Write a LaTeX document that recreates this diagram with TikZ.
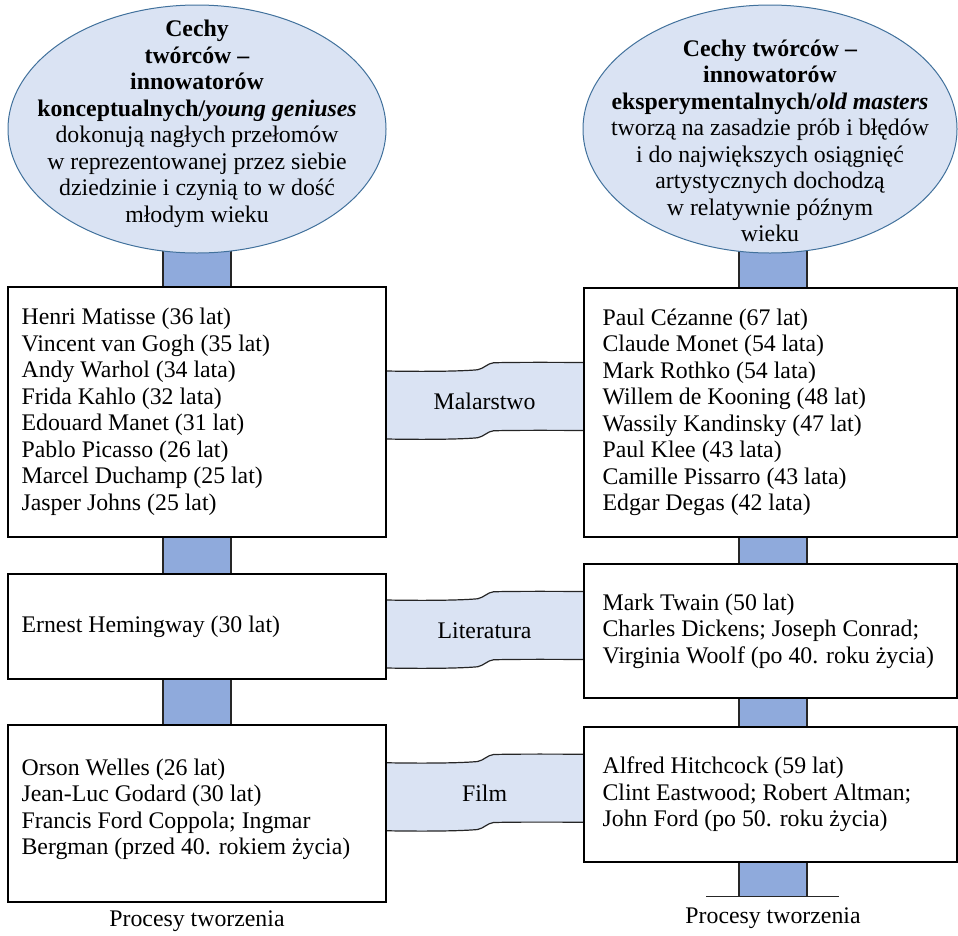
\documentclass[tikz,border=0pt]{standalone}
\usepackage{fontspec}
\setmainfont{Liberation Serif}
\usetikzlibrary{positioning,shapes.geometric,backgrounds}

\definecolor{ovalfill}{HTML}{DAE3F3}
\definecolor{ovalline}{HTML}{41719C}
\definecolor{stemfill}{HTML}{8FAADC}

\tikzset{
  base/.style={font=\fontsize{23.8}{26.5}\selectfont},
  oval/.style={ellipse, draw=ovalline, fill=ovalfill, line width=1pt, minimum width=378pt, minimum height=248pt},
  box/.style={rectangle, draw=black, line width=1.2pt, inner sep=0pt},
  list/.style={align=left, inner sep=0pt, anchor=west},
  stem/.style={draw=black!85, fill=stemfill, line width=1.2pt},
  band/.style={fill=ovalfill},
  bandline/.style={draw=black!85, line width=1.2pt},
}

\begin{document}
\begin{tikzpicture}[x=1pt, y=-1pt, base]
    \useasboundingbox (0,0) rectangle (958,935);

    % ovals
    \node[oval] (le) at (197,129) {};
    \node[oval, minimum width=374pt] (re) at (770,129) {};
    \node[align=center] (letext) at ([yshift=5pt]le.center) {\textbf{Cechy}\\ \textbf{twórców –}\\ \textbf{innowatorów}\\ \textbf{konceptualnych/\textit{young geniuses}}\\ dokonują nagłych przełomów\\ w reprezentowanej przez siebie\\ dziedzinie i czynią to w dość\\ młodym wieku};
    \node[align=center] (retext) at ([yshift=-12pt]re.center) {\textbf{Cechy twórców –}\\ \textbf{innowatorów}\\ \textbf{eksperymentalnych/\textit{old masters}}\\ tworzą na zasadzie prób i błędów\\ i do największych osiągnięć\\ artystycznych dochodzą\\ w relatywnie późnym\\ wieku};

    % boxes
    \node[box, minimum width=378pt, minimum height=250pt] (lb1) at (197,412) {};
    \node[box, minimum width=378pt, minimum height=105pt] (lb2) at (197,626.5) {};
    \node[box, minimum width=378pt, minimum height=177pt] (lb3) at (197,813.5) {};
    \node[box, minimum width=373pt, minimum height=249pt] (rb1) at (770.5,412.5) {};
    \node[box, minimum width=373pt, minimum height=134pt] (rb2) at (770.5,631) {};
    \node[box, minimum width=373pt, minimum height=135pt] (rb3) at (770.5,794.5) {};

    \node[list] (lt1) at ([xshift=14pt]lb1.west) {Henri Matisse (36 lat)\\ Vincent van Gogh (35 lat)\\ Andy Warhol (34 lata)\\ Frida Kahlo (32 lata)\\ Edouard Manet (31 lat)\\ Pablo Picasso (26 lat)\\ Marcel Duchamp (25 lat)\\ Jasper Johns (25 lat)};
    \node[list] (lt2) at ([xshift=14pt]lb2.west) {Ernest Hemingway (30 lat)};
    \node[list] (lt3) at ([shift={(14,-4)}]lb3.west) {Orson Welles (26 lat)\\ Jean-Luc Godard (30 lat)\\ Francis Ford Coppola; Ingmar\\ Bergman (przed 40. rokiem życia)};
    \node[list] (rt1) at ([xshift=19pt]rb1.west) {Paul Cézanne (67 lat)\\ Claude Monet (54 lata)\\ Mark Rothko (54 lata)\\ Willem de Kooning (48 lat)\\ Wassily Kandinsky (47 lat)\\ Paul Klee (43 lata)\\ Camille Pissarro (43 lata)\\ Edgar Degas (42 lata)};
    \node[list] (rt2) at ([xshift=19pt]rb2.west) {Mark Twain (50 lat)\\ Charles Dickens; Joseph Conrad;\\ Virginia Woolf (po 40. roku życia)};
    \node[list] (rt3) at ([xshift=19pt]rb3.west) {Alfred Hitchcock (59 lat)\\ Clint Eastwood; Robert Altman;\\ John Ford (po 50. roku życia)};

    \begin{scope}[on background layer]
        % stems
        \draw[stem] ([shift={(-34,-10)}]le.south) rectangle ([xshift=34pt]lb1.north);
        \draw[stem] ([xshift=-34pt]lb1.south) rectangle ([xshift=34pt]lb2.north);
        \draw[stem] ([xshift=-34pt]lb2.south) rectangle ([xshift=34pt]lb3.north);
        \draw[stem] ([shift={(-31,-10)}]re.south) rectangle ([xshift=36.5pt]rb1.north);
        \draw[stem] ([xshift=-31.5pt]rb1.south) rectangle ([xshift=36.5pt]rb2.north);
        \draw[stem] ([xshift=-31.5pt]rb2.south) rectangle ([xshift=36.5pt]rb3.north);
        \coordinate (rbase) at ([shift={(2.5,34)}]rb3.south);
        \draw[stem] ([xshift=-31.5pt]rb3.south) rectangle ([xshift=34pt]rbase);

        % bands between the columns
        \foreach \l/\yc/\t in {lb1/400.75/Malarstwo, lb2/629.75/Literatura, lb3/792.5/Film}{
            \coordinate (c) at (0,\yc);
            \begin{scope}[shift={(\l.east |- c)}]
                \fill[band] (0,-29.75) .. controls (40,-29) and (75,-29.5) .. (91,-31) .. controls (97,-32) and (101,-37.5) .. (107,-38) .. controls (128,-38.5) and (158,-38.5) .. (198,-38.25)
                    -- (198,29.75) .. controls (158,29.5) and (128,29.5) .. (107,30) .. controls (101,30.5) and (97,36) .. (91,37) .. controls (75,38.5) and (40,39) .. (0,38.25) -- cycle;
                \draw[bandline] (0,-29.75) .. controls (40,-29) and (75,-29.5) .. (91,-31) .. controls (97,-32) and (101,-37.5) .. (107,-38) .. controls (128,-38.5) and (158,-38.5) .. (198,-38.25);
                \draw[bandline] (198,29.75) .. controls (158,29.5) and (128,29.5) .. (107,30) .. controls (101,30.5) and (97,36) .. (91,37) .. controls (75,38.5) and (40,39) .. (0,38.25);
                \node (lab-\l) at (98,1) {\t};
            \end{scope}
        }
    \end{scope}

    \draw[bandline] ([xshift=-67pt]rbase) -- ([xshift=66pt]rbase);

    \node (lproc) [below=5pt of lb3] {Procesy tworzenia};
    \node (rproc) [below=8pt of rbase] {Procesy tworzenia};
\end{tikzpicture}
\end{document}
